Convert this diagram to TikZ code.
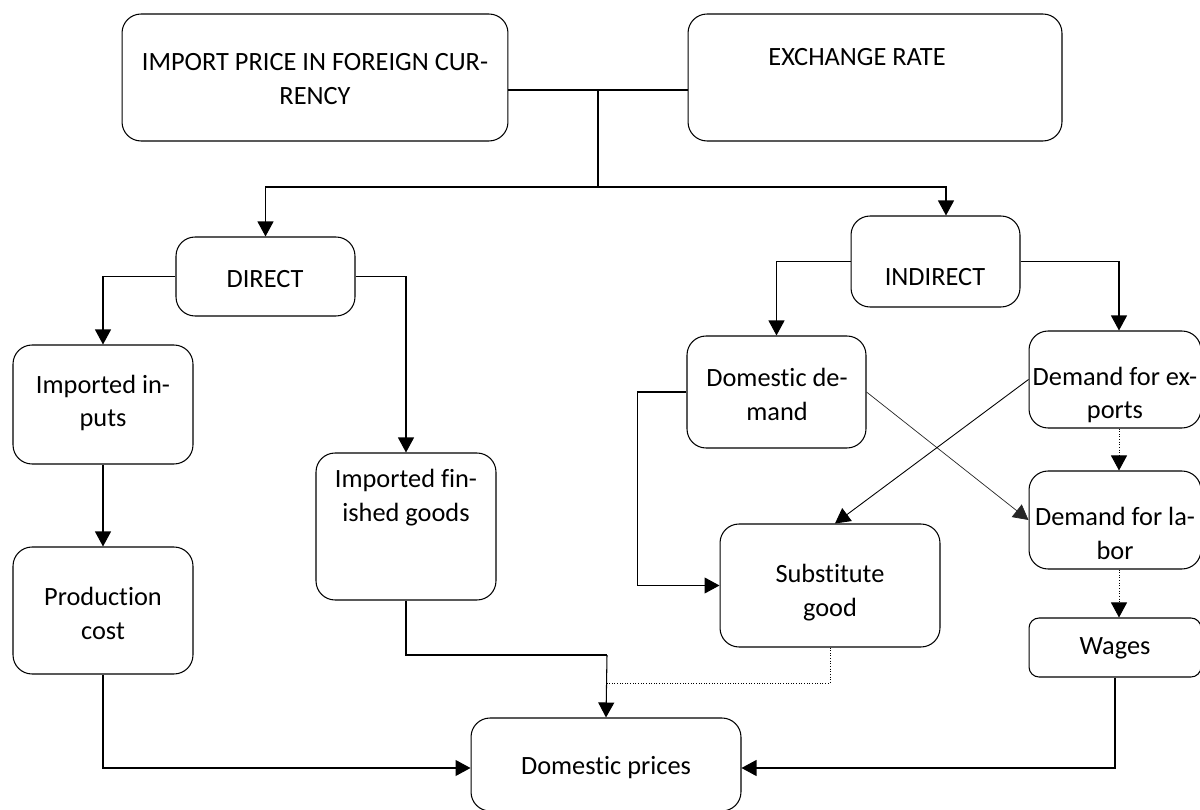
\documentclass[tikz,border=0pt]{standalone}
\usepackage{fontspec}
\setmainfont[Ligatures=NoCommon]{Carlito}
\usetikzlibrary{arrows.meta,calc}
\begin{document}
\begin{tikzpicture}[x=0.02cm,y=-0.02cm,
  box/.style={draw, line width=0.6pt, rounded corners=0.38cm, inner sep=0pt},
  txt/.style={align=center, inner sep=0pt, font=\fontsize{15}{19.3}\selectfont},
  tip/.style={-{Triangle[length=0.3cm,width=0.32cm]}},
  conn/.style={line width=0.6pt},
  arr/.style={conn, tip},
  dotl/.style={line width=0.5pt, densely dotted},
  thinl/.style={line width=0.4pt, black!85}]
\useasboundingbox (0,0) rectangle (1200,810);
% boxes
\node[box, minimum width=7.72cm, minimum height=2.54cm] (imp) at (315,77.5) {};
\node[box, minimum width=7.48cm, minimum height=2.54cm] (exr) at (875,77.5) {};
\node[box, minimum width=3.58cm, minimum height=1.58cm] (dir) at (265.5,276.5) {};
\node[box, minimum width=3.38cm, minimum height=1.82cm] (ind) at (935.5,261.5) {};
\node[box, minimum width=3.6cm, minimum height=2.38cm] (iin) at (103,404.5) {};
\node[box, minimum width=3.6cm, minimum height=2.94cm] (ifg) at (406,526.5) {};
\node[box, minimum width=3.6cm, minimum height=2.54cm] (pc) at (103,610.5) {};
\node[box, minimum width=3.58cm, minimum height=2.24cm] (dd) at (776.5,392) {};
\node[box, minimum width=3.44cm, minimum height=1.94cm] (dfe) at (1115,379.5) {};
\node[box, minimum width=3.44cm, minimum height=1.96cm] (dfl) at (1115,520) {};
\node[box, rounded corners=0.2cm, minimum width=3.44cm, minimum height=1.18cm] (wag) at (1115,647.5) {};
\node[box, minimum width=4.4cm, minimum height=2.46cm] (sub) at (830,585.5) {};
\node[box, minimum width=5.4cm, minimum height=1.86cm] (dp) at (606,764.5) {};
% texts
\node[txt] (impt) at (315,79) {IMPORT PRICE IN FOREIGN CUR-\\RENCY};
\node[txt] (exrt) at (857,57) {EXCHANGE RATE};
\node[txt] (dirt) at (265,279) {DIRECT};
\node[txt] (indt) at (935,277) {INDIRECT};
\node[txt] (iint) at (103,403) {Imported in-\\puts};
\node[txt] (ifgt) at (406,498) {Imported fin-\\ished goods};
\node[txt] (pct) at (103,613) {Production\\cost};
\node[txt] (ddt) at (777,394) {Domestic de-\\mand};
\node[txt] (dfet) at (1115,395) {Demand for ex-\\ports};
\node[txt] (dflt) at (1115,533) {Demand for la-\\bor};
\node[txt] (wagt) at (1115,648) {Wages};
\node[txt] (subt) at (830,593) {Substitute\\good};
\node[txt] (dpt) at (606,768) {Domestic prices};
% junctions
\coordinate (j1) at (598,90);
\coordinate (j2) at (598,187);
\coordinate (c1) at (607,655);
\coordinate (c2) at (607,683);
% connectors
\draw[conn] (imp.east |- j1) -- (exr.west |- j1);
\draw[conn] (j1) -- (j2);
\draw[arr] (j2) -| (dir.north);
\draw[arr] (j2) -| ([xshift=0.21cm]ind.north);
\draw[arr] (dir.west) -| (iin.north);
\draw[arr] (dir.east) -| (ifg.north);
\draw[arr] (iin.south) -- (pc.north);
\draw[arr] (pc.south) |- ([yshift=-0.07cm]dp.west);
\draw[conn] (ifg.south) |- (c1);
\draw[arr] (c1) -- (dp.north);
\draw[dotl] (sub.south) |- (c2);
\draw[arr] (wag.south) |- ([yshift=-0.07cm]dp.east);
\draw[arr] (ind.west) -| (dd.north);
\draw[arr] (ind.east) -| ([xshift=0.08cm]dfe.north);
\draw[dotl, tip] ([xshift=0.08cm]dfe.south) -- ([xshift=0.08cm]dfl.north);
\draw[dotl, tip] ([xshift=0.08cm]dfl.south) -- ([xshift=0.08cm]wag.north);
\draw[arr] (dd.west) -- ++(-49,0) |- (sub.west);
\draw[thinl, tip] (dd.east) -- (dfl.west);
\draw[arr, line width=0.5pt] (dfe.west) -- ([xshift=0.1cm]sub.north);
\end{tikzpicture}
\end{document}
